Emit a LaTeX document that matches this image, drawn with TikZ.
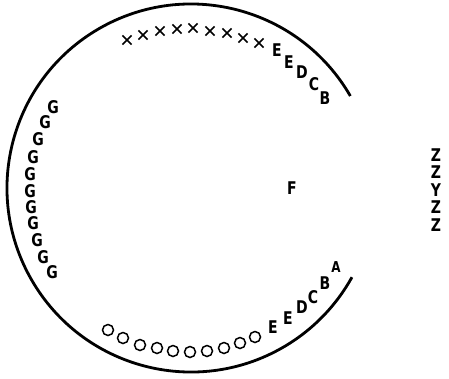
\documentclass[tikz,border=0pt]{standalone}
\usepackage{fontspec}
\newfontfamily\lblfont{DejaVu Sans}[FakeStretch=0.8]
\usetikzlibrary{shapes.misc}
\tikzset{
  lbl/.style={font=\lblfont\bfseries\fontsize{17.5}{17.5}\selectfont, inner sep=0pt},
  crossmark/.style={cross out, draw, line width=1.6pt, minimum size=7.5pt, inner sep=0pt},
  ringmark/.style={circle, draw, line width=1.5pt, minimum size=11pt, inner sep=0pt},
  rim/.style={line width=2.8pt}
}
\begin{document}
\begin{tikzpicture}[x=1pt,y=-1pt]
\useasboundingbox (0,0) rectangle (449,378);
\coordinate (c) at (191,188);
\draw[rim] ([shift={(-30:184)}]c) arc[start angle=-30, end angle=-331, radius=184];
% crosses
\foreach \x/\y [count=\i] in {127/40,143/35,160/31,177/29,193/28,210/31,227/33,243/38,259/43}
  \node[crossmark] (x\i) at (\x,\y) {};
% upper letters
\node[lbl] (ue1) at (277,50) {E};
\node[lbl] (ue2) at (289,62) {E};
\node[lbl] (ud) at (302,72) {D};
\node[lbl] (uc) at (314,84) {C};
\node[lbl] (ub) at (325,98) {B};
% G column
\foreach \x/\y [count=\i] in {53/107,45/122,38/139,33/157,30/174,30/191,31/207,33/223,37/240,43/257,52/272}
  \node[lbl] (g\i) at (\x,\y) {G};
% circles
\foreach \x/\y [count=\i] in {108/330,123/338,140/345,157/348,173/351,190/352,207/351,224/348,240/343,255/337}
  \node[ringmark] (o\i) at (\x,\y) {};
% lower letters
\node[lbl] (le1) at (273,327) {E};
\node[lbl] (le2) at (288,318) {E};
\node[lbl] (ld) at (302,307) {D};
\node[lbl] (lc) at (313,297) {C};
\node[lbl] (lb) at (325,283) {B};
\node[lbl,font=\lblfont\bfseries\fontsize{15}{15}\selectfont] (la) at (336,267) {A};
% F
\node[lbl] (f) at (292,188) {F};
% Z column
\node[lbl] (z1) at (436,155) {Z};
\node[lbl] (z2) at (436,172) {Z};
\node[lbl] (y3) at (436,190) {Y};
\node[lbl] (z4) at (436,207) {Z};
\node[lbl] (z5) at (436,225) {Z};
\end{tikzpicture}
\end{document}
